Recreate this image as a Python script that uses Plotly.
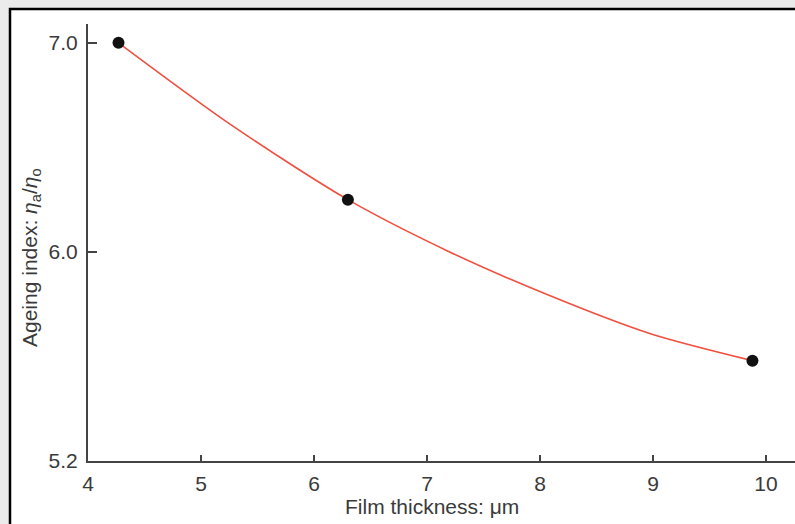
import plotly.graph_objects as go

# measured points
thickness = [4.27, 6.30, 9.88]
ageing_index = [7.00, 6.25, 5.48]

# fitted curve, values
curve_thickness = [4.27, 5.26, 6.30, 7.20, 8.09, 8.97, 9.88]
curve_index = [7.00, 6.61, 6.25, 6.00, 5.79, 5.61, 5.48]

x_tickvals = [4, 5, 6, 7, 8, 9, 10]
x_ticktext = ["4", "5", "6", "7", "8", "9", "10"]
y_tickvals = [5.0, 6.0, 7.0]
y_ticktext = ["5.2", "6.0", "7.0"]

FONT = "Liberation Sans, Arial, sans-serif"
TXT = "#3a3a3a"
AX = "#444444"

fig = go.Figure()
fig.add_trace(go.Scatter(
    x=curve_thickness, y=curve_index, mode="lines",
    line=dict(color="#f0503f", width=1.6, shape="spline", smoothing=0.8),
    hoverinfo="skip", showlegend=False))
fig.add_trace(go.Scatter(
    x=thickness, y=ageing_index, mode="markers",
    marker=dict(color="#111111", size=12), showlegend=False))

W, H = 795, 524
L, R, T, B = 88, 0, 24, 63
pw, ph = W - L - R, H - T - B

def px(xp):
    return (xp - L) / pw

def py(yp):
    return (H - B - yp) / ph

fig.add_shape(type="rect", xref="paper", yref="paper",
              x0=px(10), x1=px(W + 20), y0=py(H + 20), y1=py(9),
              line=dict(color="black", width=2.5), fillcolor="white", layer="below")

fig.add_annotation(xref="paper", yref="paper", x=px(432), y=py(506),
                   text="Film thickness: μm", showarrow=False,
                   font=dict(family=FONT, size=21, color=TXT),
                   xanchor="center", yanchor="middle")
fig.add_annotation(xref="paper", yref="paper", x=px(31), y=py(258),
                   text="Ageing index: <i>η</i><sub>a</sub>/<i>η</i><sub>o</sub>",
                   textangle=-90, showarrow=False,
                   font=dict(family=FONT, size=21, color=TXT),
                   xanchor="center", yanchor="middle")

fig.update_layout(
    width=W, height=H,
    margin=dict(l=L, r=R, t=T, b=B, pad=0),
    paper_bgcolor="#ebebeb", plot_bgcolor="rgba(0,0,0,0)",
    font=dict(family=FONT, size=21, color=TXT),
    xaxis=dict(range=[4, 4 + (W - L) / 113.0], tickvals=x_tickvals, ticktext=x_ticktext,
               showgrid=False, zeroline=False, showline=True, linecolor=AX, linewidth=2,
               ticks="inside", ticklen=6, tickwidth=1.5, tickcolor=AX,
               ticklabelstandoff=3),
    yaxis=dict(range=[5.0, 7.09], tickvals=y_tickvals, ticktext=y_ticktext,
               showgrid=False, zeroline=False, showline=True, linecolor=AX, linewidth=2,
               ticks="inside", ticklen=9, tickwidth=1.5, tickcolor=AX,
               ticklabelstandoff=4),
)

fig.write_html("out.html")
